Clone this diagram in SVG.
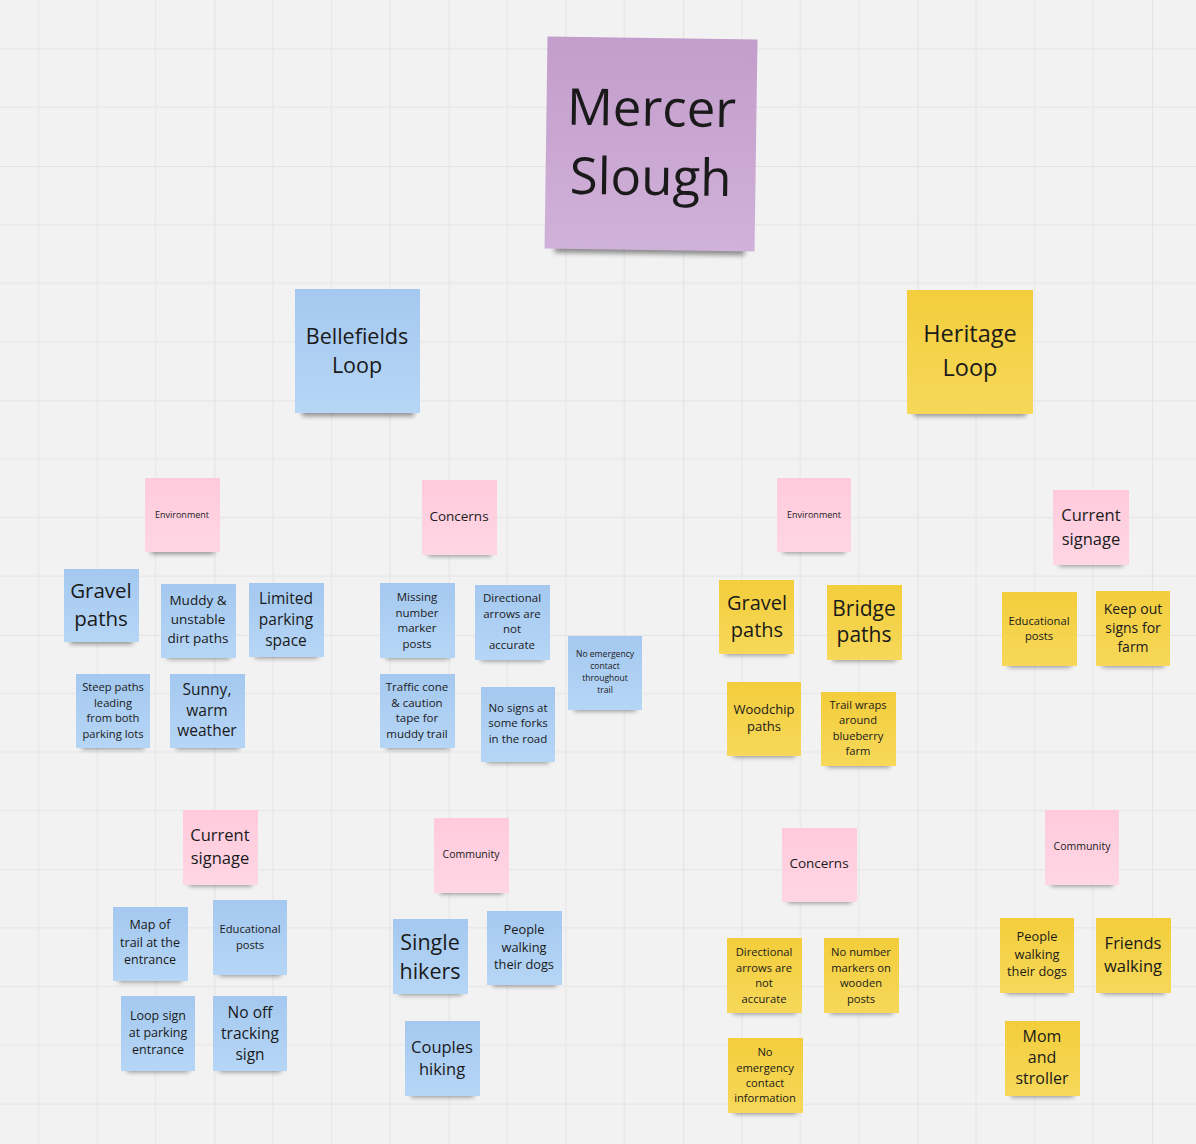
<svg xmlns="http://www.w3.org/2000/svg" width="1196" height="1144" viewBox="0 0 1196 1144">
<defs>
<pattern id="grid" patternUnits="userSpaceOnUse" x="214.3" y="166" width="234.4" height="234.4">
<rect width="234.4" height="234.4" fill="#f2f2f2"/>
<g stroke="#e8e8e8" stroke-width="1.4">
<line x1="58.6" y1="0" x2="58.6" y2="234.4"/><line x1="117.2" y1="0" x2="117.2" y2="234.4"/><line x1="175.8" y1="0" x2="175.8" y2="234.4"/>
<line x1="0" y1="58.6" x2="234.4" y2="58.6"/><line x1="0" y1="117.2" x2="234.4" y2="117.2"/><line x1="0" y1="175.8" x2="234.4" y2="175.8"/>
</g>
<g stroke="#e3e3e3" stroke-width="2.2">
<line x1="0" y1="0" x2="0" y2="234.4"/><line x1="0" y1="0" x2="234.4" y2="0"/>
</g>
</pattern>
<linearGradient id="gBlue" x1="0" y1="0" x2="0" y2="1"><stop offset="0" stop-color="#a4c8ef"/><stop offset="1" stop-color="#b6d6f6"/></linearGradient>
<linearGradient id="gYel" x1="0" y1="0" x2="0" y2="1"><stop offset="0" stop-color="#f3cd3b"/><stop offset="1" stop-color="#f6d85a"/></linearGradient>
<linearGradient id="gPink" x1="0" y1="0" x2="0" y2="1"><stop offset="0" stop-color="#ffcadc"/><stop offset="1" stop-color="#ffd6e4"/></linearGradient>
<linearGradient id="gPur" x1="0" y1="0" x2="0" y2="1"><stop offset="0" stop-color="#c39dcb"/><stop offset="1" stop-color="#d0b1d9"/></linearGradient>
<filter id="blur" x="-20%" y="-100%" width="140%" height="300%"><feGaussianBlur stdDeviation="2.5"/></filter>
</defs>
<style>
.sh{fill:#000;opacity:0.42;filter:url(#blur)}
.b{fill:url(#gBlue)}
.y{fill:url(#gYel)}
.p{fill:url(#gPink)}
.u{fill:url(#gPur)}
text{font-family:"Open Sans","Noto Sans","DejaVu Sans",sans-serif;fill:#1a1a1a;text-anchor:middle;dominant-baseline:central}
</style>
<rect width="1196" height="1144" fill="url(#grid)"/>
<g id="connectors"/>

<g id="mercer-slough" transform="rotate(0.8 651 145)">
<rect class="sh" x="556" y="242" width="190" height="12"/>
<rect class="u" x="546" y="38" width="210" height="212"/>
<text font-size="51"><tspan x="651" y="106">Mercer</tspan><tspan x="651" y="175">Slough</tspan></text>
</g>

<g id="bellefields-loop">
<rect class="sh" x="302" y="405" width="112" height="11"/>
<rect class="b" x="295" y="289" width="125" height="124"/>
<text font-size="21.5"><tspan x="357" y="335">Bellefields</tspan><tspan x="357" y="364">Loop</tspan></text>
</g>

<g id="heritage-loop">
<rect class="sh" x="914" y="405" width="112" height="11"/>
<rect class="y" x="907" y="290" width="126" height="124"/>
<text font-size="23.5"><tspan x="970" y="333">Heritage</tspan><tspan x="970" y="367">Loop</tspan></text>
</g>

<!-- Bellefields: Environment -->
<g id="bf-environment">
<rect class="sh" x="151" y="545" width="63" height="9"/>
<rect class="p" x="145" y="478" width="75" height="74"/>
<text font-size="9"><tspan x="182" y="514">Environment</tspan></text>
</g>
<g id="bf-gravel-paths">
<rect class="sh" x="70" y="635" width="63" height="9"/>
<rect class="b" x="64" y="569" width="75" height="73"/>
<text font-size="20.5"><tspan x="101" y="590">Gravel</tspan><tspan x="101" y="618">paths</tspan></text>
</g>
<g id="bf-muddy">
<rect class="sh" x="167" y="650" width="63" height="9"/>
<rect class="b" x="161" y="584" width="75" height="74"/>
<text font-size="13.5"><tspan x="198" y="600">Muddy &amp;</tspan><tspan x="198" y="619">unstable</tspan><tspan x="198" y="638">dirt paths</tspan></text>
</g>
<g id="bf-limited-parking">
<rect class="sh" x="255" y="649" width="63" height="9"/>
<rect class="b" x="249" y="583" width="75" height="74"/>
<text font-size="15.5"><tspan x="286" y="598">Limited</tspan><tspan x="286" y="619">parking</tspan><tspan x="286" y="640">space</tspan></text>
</g>
<g id="bf-steep-paths">
<rect class="sh" x="82" y="740" width="62" height="9"/>
<rect class="b" x="76" y="674" width="74" height="74"/>
<text font-size="11.2"><tspan x="113" y="686">Steep paths</tspan><tspan x="113" y="702">leading</tspan><tspan x="113" y="717">from both</tspan><tspan x="113" y="733">parking lots</tspan></text>
</g>
<g id="bf-sunny">
<rect class="sh" x="176" y="740" width="63" height="9"/>
<rect class="b" x="170" y="674" width="75" height="74"/>
<text font-size="15.5"><tspan x="207" y="689">Sunny,</tspan><tspan x="207" y="710">warm</tspan><tspan x="207" y="730">weather</tspan></text>
</g>

<!-- Bellefields: Concerns -->
<g id="bf-concerns">
<rect class="sh" x="428" y="547" width="63" height="9"/>
<rect class="p" x="422" y="480" width="75" height="75"/>
<text font-size="13.5"><tspan x="459" y="516">Concerns</tspan></text>
</g>
<g id="bf-missing-markers">
<rect class="sh" x="386" y="650" width="63" height="9"/>
<rect class="b" x="380" y="583" width="75" height="75"/>
<text font-size="11.5"><tspan x="417" y="596">Missing</tspan><tspan x="417" y="612">number</tspan><tspan x="417" y="627">marker</tspan><tspan x="417" y="643">posts</tspan></text>
</g>
<g id="bf-directional">
<rect class="sh" x="481" y="652" width="63" height="9"/>
<rect class="b" x="475" y="585" width="75" height="75"/>
<text font-size="11.5"><tspan x="512" y="597">Directional</tspan><tspan x="512" y="613">arrows are</tspan><tspan x="512" y="628">not</tspan><tspan x="512" y="644">accurate</tspan></text>
</g>
<g id="bf-no-emergency">
<rect class="sh" x="574" y="702" width="62" height="9"/>
<rect class="b" x="568" y="636" width="74" height="74"/>
<text font-size="8.6"><tspan x="605" y="654">No emergency</tspan><tspan x="605" y="666">contact</tspan><tspan x="605" y="678">throughout</tspan><tspan x="605" y="690">trail</tspan></text>
</g>
<g id="bf-traffic-cone">
<rect class="sh" x="386" y="740" width="63" height="9"/>
<rect class="b" x="380" y="674" width="75" height="74"/>
<text font-size="11.5"><tspan x="417" y="686">Traffic cone</tspan><tspan x="417" y="702">&amp; caution</tspan><tspan x="417" y="717">tape for</tspan><tspan x="417" y="733">muddy trail</tspan></text>
</g>
<g id="bf-no-signs">
<rect class="sh" x="487" y="754" width="62" height="9"/>
<rect class="b" x="481" y="687" width="74" height="75"/>
<text font-size="11.5"><tspan x="518" y="707">No signs at</tspan><tspan x="518" y="722">some forks</tspan><tspan x="518" y="738">in the road</tspan></text>
</g>

<!-- Bellefields: Current signage -->
<g id="bf-current-signage">
<rect class="sh" x="189" y="877" width="63" height="9"/>
<rect class="p" x="183" y="810" width="75" height="75"/>
<text font-size="16.5"><tspan x="220" y="834">Current</tspan><tspan x="220" y="857">signage</tspan></text>
</g>
<g id="bf-map">
<rect class="sh" x="119" y="973" width="63" height="9"/>
<rect class="b" x="113" y="907" width="75" height="74"/>
<text font-size="12.5"><tspan x="150" y="924">Map of</tspan><tspan x="150" y="942">trail at the</tspan><tspan x="150" y="959">entrance</tspan></text>
</g>
<g id="bf-educational">
<rect class="sh" x="219" y="967" width="62" height="9"/>
<rect class="b" x="213" y="900" width="74" height="75"/>
<text font-size="11.2"><tspan x="250" y="928">Educational</tspan><tspan x="250" y="944">posts</tspan></text>
</g>
<g id="bf-loop-sign">
<rect class="sh" x="127" y="1063" width="62" height="9"/>
<rect class="b" x="121" y="996" width="74" height="75"/>
<text font-size="12.5"><tspan x="158" y="1015">Loop sign</tspan><tspan x="158" y="1032">at parking</tspan><tspan x="158" y="1049">entrance</tspan></text>
</g>
<g id="bf-no-off-tracking">
<rect class="sh" x="219" y="1063" width="62" height="9"/>
<rect class="b" x="213" y="996" width="74" height="75"/>
<text font-size="15.5"><tspan x="250" y="1012">No off</tspan><tspan x="250" y="1033">tracking</tspan><tspan x="250" y="1054">sign</tspan></text>
</g>

<!-- Bellefields: Community -->
<g id="bf-community">
<rect class="sh" x="440" y="885" width="63" height="9"/>
<rect class="p" x="434" y="818" width="75" height="75"/>
<text font-size="10.5"><tspan x="471" y="854">Community</tspan></text>
</g>
<g id="bf-single-hikers">
<rect class="sh" x="399" y="986" width="63" height="9"/>
<rect class="b" x="393" y="919" width="75" height="75"/>
<text font-size="21.5"><tspan x="430" y="941">Single</tspan><tspan x="430" y="970">hikers</tspan></text>
</g>
<g id="bf-people-dogs">
<rect class="sh" x="493" y="977" width="63" height="9"/>
<rect class="b" x="487" y="911" width="75" height="74"/>
<text font-size="12.8"><tspan x="524" y="929">People</tspan><tspan x="524" y="947">walking</tspan><tspan x="524" y="964">their dogs</tspan></text>
</g>
<g id="bf-couples">
<rect class="sh" x="411" y="1088" width="63" height="9"/>
<rect class="b" x="405" y="1021" width="75" height="75"/>
<text font-size="16.5"><tspan x="442" y="1046">Couples</tspan><tspan x="442" y="1068">hiking</tspan></text>
</g>

<!-- Heritage: Environment -->
<g id="hl-environment">
<rect class="sh" x="783" y="544" width="62" height="9"/>
<rect class="p" x="777" y="478" width="74" height="74"/>
<text font-size="9"><tspan x="814" y="514">Environment</tspan></text>
</g>
<g id="hl-gravel-paths">
<rect class="sh" x="725" y="646" width="63" height="9"/>
<rect class="y" x="719" y="580" width="75" height="74"/>
<text font-size="20"><tspan x="757" y="602">Gravel</tspan><tspan x="757" y="629">paths</tspan></text>
</g>
<g id="hl-bridge-paths">
<rect class="sh" x="833" y="652" width="63" height="9"/>
<rect class="y" x="827" y="585" width="75" height="75"/>
<text font-size="21"><tspan x="864" y="608">Bridge</tspan><tspan x="864" y="634">paths</tspan></text>
</g>
<g id="hl-woodchip">
<rect class="sh" x="733" y="748" width="62" height="9"/>
<rect class="y" x="727" y="682" width="74" height="74"/>
<text font-size="13"><tspan x="764" y="709">Woodchip</tspan><tspan x="764" y="726">paths</tspan></text>
</g>
<g id="hl-trail-wraps">
<rect class="sh" x="827" y="758" width="63" height="9"/>
<rect class="y" x="821" y="692" width="75" height="74"/>
<text font-size="11.2"><tspan x="858" y="704">Trail wraps</tspan><tspan x="858" y="719">around</tspan><tspan x="858" y="735">blueberry</tspan><tspan x="858" y="750">farm</tspan></text>
</g>

<!-- Heritage: Current signage -->
<g id="hl-current-signage">
<rect class="sh" x="1059" y="557" width="64" height="9"/>
<rect class="p" x="1053" y="490" width="76" height="75"/>
<text font-size="16.5"><tspan x="1091" y="514">Current</tspan><tspan x="1091" y="538">signage</tspan></text>
</g>
<g id="hl-educational">
<rect class="sh" x="1008" y="658" width="63" height="9"/>
<rect class="y" x="1002" y="592" width="75" height="74"/>
<text font-size="11.2"><tspan x="1039" y="620">Educational</tspan><tspan x="1039" y="635">posts</tspan></text>
</g>
<g id="hl-keep-out">
<rect class="sh" x="1102" y="658" width="62" height="9"/>
<rect class="y" x="1096" y="591" width="74" height="75"/>
<text font-size="14"><tspan x="1133" y="608">Keep out</tspan><tspan x="1133" y="627">signs for</tspan><tspan x="1133" y="646">farm</tspan></text>
</g>

<!-- Heritage: Concerns -->
<g id="hl-concerns">
<rect class="sh" x="788" y="894" width="63" height="9"/>
<rect class="p" x="782" y="828" width="75" height="74"/>
<text font-size="13.5"><tspan x="819" y="863">Concerns</tspan></text>
</g>
<g id="hl-directional">
<rect class="sh" x="733" y="1005" width="63" height="9"/>
<rect class="y" x="727" y="938" width="75" height="75"/>
<text font-size="11.2"><tspan x="764" y="951">Directional</tspan><tspan x="764" y="967">arrows are</tspan><tspan x="764" y="982">not</tspan><tspan x="764" y="998">accurate</tspan></text>
</g>
<g id="hl-no-number">
<rect class="sh" x="830" y="1005" width="63" height="9"/>
<rect class="y" x="824" y="938" width="75" height="75"/>
<text font-size="11.2"><tspan x="861" y="951">No number</tspan><tspan x="861" y="967">markers on</tspan><tspan x="861" y="982">wooden</tspan><tspan x="861" y="998">posts</tspan></text>
</g>
<g id="hl-no-emergency">
<rect class="sh" x="734" y="1105" width="63" height="9"/>
<rect class="y" x="728" y="1038" width="75" height="75"/>
<text font-size="11.2"><tspan x="765" y="1051">No</tspan><tspan x="765" y="1067">emergency</tspan><tspan x="765" y="1082">contact</tspan><tspan x="765" y="1097">information</tspan></text>
</g>

<!-- Heritage: Community -->
<g id="hl-community">
<rect class="sh" x="1051" y="877" width="62" height="9"/>
<rect class="p" x="1045" y="810" width="74" height="75"/>
<text font-size="10.5"><tspan x="1082" y="846">Community</tspan></text>
</g>
<g id="hl-people-dogs">
<rect class="sh" x="1006" y="985" width="62" height="9"/>
<rect class="y" x="1000" y="918" width="74" height="75"/>
<text font-size="12.8"><tspan x="1037" y="936">People</tspan><tspan x="1037" y="954">walking</tspan><tspan x="1037" y="971">their dogs</tspan></text>
</g>
<g id="hl-friends">
<rect class="sh" x="1102" y="985" width="63" height="9"/>
<rect class="y" x="1096" y="918" width="75" height="75"/>
<text font-size="16.5"><tspan x="1133" y="942">Friends</tspan><tspan x="1133" y="965">walking</tspan></text>
</g>
<g id="hl-mom-stroller">
<rect class="sh" x="1011" y="1088" width="63" height="9"/>
<rect class="y" x="1005" y="1021" width="75" height="75"/>
<text font-size="16"><tspan x="1042" y="1036">Mom</tspan><tspan x="1042" y="1057">and</tspan><tspan x="1042" y="1078">stroller</tspan></text>
</g>
</svg>
